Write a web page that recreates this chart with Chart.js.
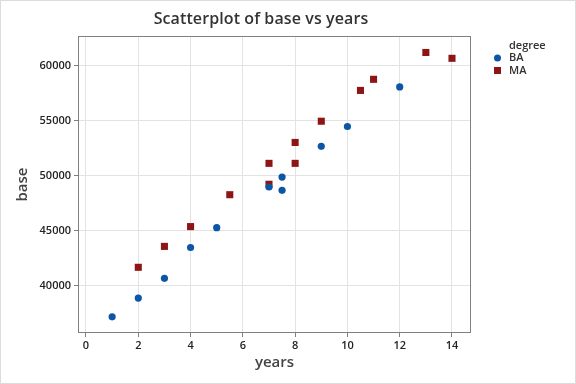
<!DOCTYPE html>
<html><head><meta charset="utf-8">
<script src="https://cdn.jsdelivr.net/npm/chart.js@4"></script>
<style>html,body{margin:0;padding:0;background:#fff}#wrap{width:576px;height:384px}</style>
</head><body><div id="wrap"><canvas id="c" width="576" height="384"></canvas></div>
<script>
const titleText = "Scatterplot of base vs years";
const xTitle = "years";
const yTitle = "base";
const legendTitle = "degree";
const baYears = [1, 2, 3, 4, 5, 7, 7.5, 7.5, 9, 10, 12];
const baBase  = [37200, 38900, 40700, 43500, 45300, 49000, 49900, 48700, 52700, 54500, 58100];
const maYears = [2, 3, 4, 5.5, 7, 7, 8, 8, 9, 10.5, 11, 13, 14];
const maBase  = [41700, 43600, 45400, 48300, 51150, 49250, 53050, 51150, 54980, 57780, 58790, 61230, 60700];
const xTicks = [0, 2, 4, 6, 8, 10, 12, 14];
const yTicks = [40000, 45000, 50000, 55000, 60000];

const BLUE = '#0b56a6', RED = '#8e1515';
const toPts = (xs, ys) => xs.map((x, i) => ({x, y: ys[i]}));

const frame = {
  id: 'frame',
  beforeDraw(chart) {
    const ctx = chart.ctx;
    ctx.save();
    ctx.fillStyle = '#fff';
    ctx.fillRect(0, 0, chart.width, chart.height);
    ctx.restore();
  },
  afterDraw(chart) {
    const ctx = chart.ctx, a = chart.chartArea;
    ctx.save();
    ctx.strokeStyle = '#dcdcdc'; ctx.lineWidth = 1;
    ctx.strokeRect(0.5, 0.5, chart.width - 1, chart.height - 1);
    ctx.strokeStyle = '#808080';
    ctx.strokeRect(Math.round(a.left) + 0.5, Math.round(a.top) + 0.5, Math.round(a.right - a.left) - 1, Math.round(a.bottom - a.top) - 1);
    // title
    ctx.fillStyle = '#333';
    ctx.font = '600 16px "Open Sans"';
    ctx.textAlign = 'center'; ctx.textBaseline = 'middle';
    if ('letterSpacing' in ctx) ctx.letterSpacing = '0.1px';
    ctx.fillText(titleText, 261, 19);
    if ('letterSpacing' in ctx) ctx.letterSpacing = '0px';
    // legend
    ctx.font = '600 11px "Open Sans"';
    ctx.textAlign = 'left';
    ctx.fillStyle = '#333';
    ctx.fillText(legendTitle, 509, 46);
    const items = chart.data.datasets;
    items.forEach((ds, i) => {
      const y = 58 + i * 12.5;
      ctx.fillStyle = ds.backgroundColor;
      if (ds.pointStyle === 'rect') {
        ctx.fillRect(494, y - 3.5, 7, 7);
      } else {
        ctx.beginPath(); ctx.arc(497.5, y, 3.5, 0, Math.PI * 2); ctx.fill();
      }
      ctx.fillStyle = '#333';
      ctx.fillText(ds.label, 509, y);
    });
    ctx.restore();
  }
};

new Chart(document.getElementById('c'), {
  type: 'scatter',
  data: {
    datasets: [
      {label: 'BA', data: toPts(baYears, baBase), backgroundColor: BLUE, borderColor: BLUE, pointStyle: 'circle', pointRadius: 3.6, borderWidth: 0},
      {label: 'MA', data: toPts(maYears, maBase), backgroundColor: RED, borderColor: RED, pointStyle: 'rect', pointRadius: 5, borderWidth: 0}
    ]
  },
  options: {
    responsive: false, animation: false,
    layout: {padding: {left: 0, top: 36, right: 105, bottom: 0}},
    plugins: {legend: {display: false}, title: {display: false}, tooltip: {enabled: false}},
    scales: {
      x: {
        type: 'linear', min: -0.306, max: 14.727,
        afterBuildTicks: s => { s.ticks = xTicks.map(v => ({value: v})); },
        afterFit: s => { s.height = 51; },
        grid: {color: '#e3e3e3', tickColor: '#808080', tickLength: 4, drawTicks: true},
        border: {display: false},
        ticks: {color: '#222', font: {family: '"Open Sans"', size: 11, weight: '600'}, padding: 2, maxRotation: 0},
        title: {display: true, text: xTitle, color: '#444', font: {family: '"Open Sans"', size: 15, weight: '600'}, padding: {top: 2, bottom: 12}}
      },
      y: {
        type: 'linear', min: 35727, max: 62727,
        afterBuildTicks: s => { s.ticks = yTicks.map(v => ({value: v})); },
        afterFit: s => { s.width = 78; },
        grid: {color: '#e3e3e3', tickColor: '#808080', tickLength: 4, drawTicks: true},
        border: {display: false},
        ticks: {color: '#222', font: {family: '"Open Sans"', size: 11, weight: '600'}, padding: 3, callback: v => String(v)},
        title: {display: true, text: yTitle, color: '#444', font: {family: '"Open Sans"', size: 15, weight: '600'}, padding: {top: 14, bottom: 0}}
      }
    }
  },
  plugins: [frame]
});
</script></body></html>
